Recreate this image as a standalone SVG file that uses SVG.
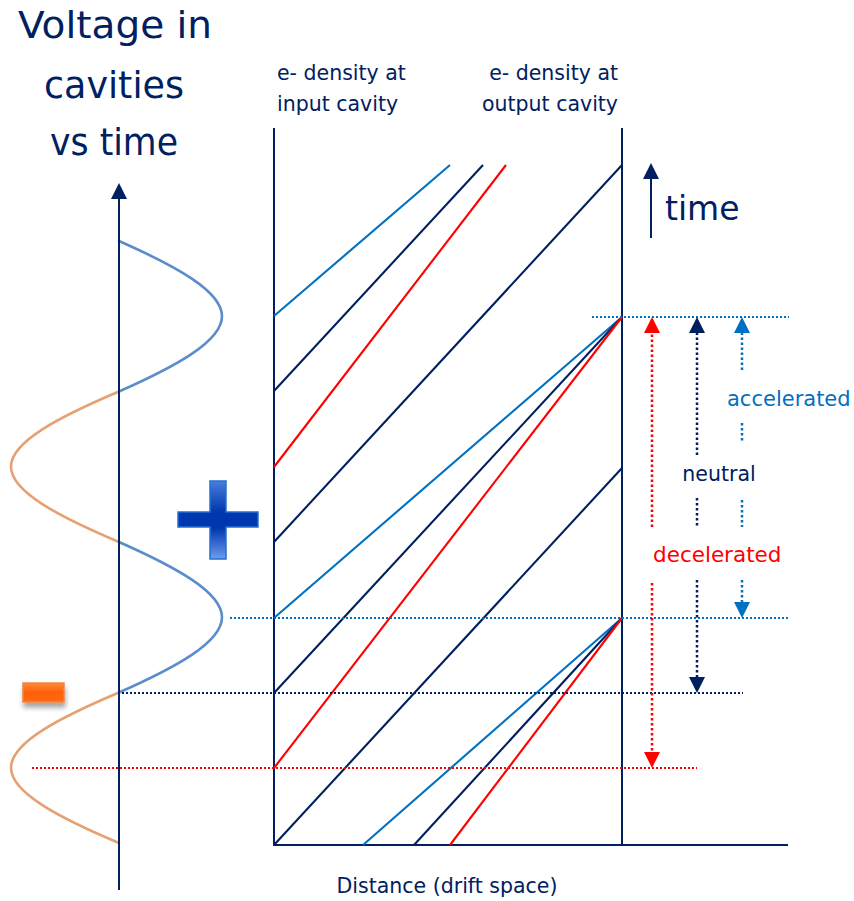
<svg xmlns="http://www.w3.org/2000/svg" width="854" height="901" viewBox="0 0 854 901">
<style>
.navy{stroke:#002060}
.blue{stroke:#0070c0}
.red{stroke:#ff0000}
.axis{fill:none;stroke:#002060;stroke-width:2}
.traj{fill:none;stroke-width:2.1}
.hdot{fill:none;stroke-width:2.2;stroke-dasharray:2 2}
.vdot{fill:none;stroke-width:2.5;stroke-dasharray:2.5 2.5}
.t{font-family:"DejaVu Sans","Liberation Sans",sans-serif}
.title{font-size:38px;fill:#002060;text-anchor:middle}
.hdr{font-size:20.5px;fill:#002060}
.lbl{font-size:21px}
</style>
<defs>
<marker id="ahNavy" markerUnits="userSpaceOnUse" markerWidth="16" markerHeight="16" viewBox="0 0 16 16" refX="0" refY="8" orient="auto"><path d="M0,0 L16,8 L0,16 z" fill="#002060"/></marker>
<marker id="ahBlue" markerUnits="userSpaceOnUse" markerWidth="16" markerHeight="16" viewBox="0 0 16 16" refX="0" refY="8" orient="auto"><path d="M0,0 L16,8 L0,16 z" fill="#0070c0"/></marker>
<marker id="ahRed" markerUnits="userSpaceOnUse" markerWidth="16" markerHeight="16" viewBox="0 0 16 16" refX="0" refY="8" orient="auto"><path d="M0,0 L16,8 L0,16 z" fill="#ff0000"/></marker>
<linearGradient id="plusG" x1="0" y1="481" x2="0" y2="559" gradientUnits="userSpaceOnUse">
<stop offset="0" stop-color="#4a7ddc"/>
<stop offset="0.4" stop-color="#0036ae"/>
<stop offset="0.6" stop-color="#0036ae"/>
<stop offset="1" stop-color="#6e9cee"/>
</linearGradient>
<linearGradient id="minusG" x1="0" y1="0" x2="0" y2="1">
<stop offset="0" stop-color="#ff8a3a"/>
<stop offset="0.5" stop-color="#ff6008"/>
<stop offset="1" stop-color="#ff6a16"/>
</linearGradient>
<filter id="shadow" x="-30%" y="-30%" width="160%" height="190%">
<feGaussianBlur in="SourceAlpha" stdDeviation="2.5"/>
<feOffset dx="1" dy="5" result="b"/>
<feComponentTransfer><feFuncA type="linear" slope="0.35"/></feComponentTransfer>
<feMerge><feMergeNode/><feMergeNode in="SourceGraphic"/></feMerge>
</filter>
</defs>

<g id="title" class="t title">
<text x="115" y="38" textLength="194" lengthAdjust="spacingAndGlyphs">Voltage in</text>
<text x="114" y="98" textLength="140" lengthAdjust="spacingAndGlyphs">cavities</text>
<text x="114" y="155" textLength="128" lengthAdjust="spacingAndGlyphs">vs time</text>
</g>

<g id="voltage-curve" fill="none" stroke-width="2.6" stroke-linecap="round">
<path d="M119,241 C175.7,266.1 222,291.2 222,316.25 C222,341.3 175.7,366.4 119,391.5" stroke="#5b8ccc"/>
<path d="M119,391.5 C59.6,416.6 11,441.7 11,466.75 C11,491.8 59.6,516.9 119,542" stroke="#e6a072"/>
<path d="M119,542 C175.7,567.1 222,592.2 222,617.25 C222,642.3 175.7,667.4 119,692.5" stroke="#5b8ccc"/>
<path d="M119,692.5 C59.6,717.6 11,742.7 11,767.75 C11,792.8 59.6,817.9 119,843" stroke="#e6a072"/>
</g>

<g id="plus-sign">
<path d="M210,481 H226 V512 H258 V527 H226 V559 H210 V527 H178 V512 H210 Z" fill="url(#plusG)" stroke="#1f72d4" stroke-width="1.5"/>
</g>

<g id="minus-sign" filter="url(#shadow)">
<rect x="23" y="683" width="41" height="19" fill="url(#minusG)" stroke="#e9874a" stroke-width="1.5"/>
</g>

<g id="axes">
<line class="axis" x1="274" y1="128" x2="274" y2="845"/>
<line class="axis" x1="622" y1="128" x2="622" y2="845"/>
<line class="axis" x1="273" y1="845" x2="788" y2="845"/>
</g>

<g id="trajectories" class="traj">
<line class="blue" x1="274" y1="316" x2="450" y2="165"/>
<line class="blue" x1="274" y1="618" x2="622" y2="317"/>
<line class="blue" x1="363" y1="845" x2="622" y2="618"/>
<line class="navy" x1="274" y1="391" x2="483" y2="165"/>
<line class="navy" x1="274" y1="542" x2="622" y2="165"/>
<line class="navy" x1="274" y1="693" x2="622" y2="317"/>
<line class="navy" x1="274" y1="845" x2="622" y2="468"/>
<line class="navy" x1="414" y1="845" x2="622" y2="618"/>
<line class="red" x1="274" y1="467" x2="506" y2="165"/>
<line class="red" x1="274" y1="768" x2="622" y2="317"/>
<line class="red" x1="450" y1="845" x2="622" y2="618"/>
</g>

<g id="connectors">
<line class="axis" x1="119" y1="890" x2="119" y2="199" marker-end="url(#ahNavy)"/>
<line class="axis" x1="651" y1="238" x2="651" y2="179" stroke-width="2.5" marker-end="url(#ahNavy)"/>
<line class="hdot blue" x1="592" y1="317" x2="789" y2="317"/>
<line class="hdot blue" x1="230" y1="618" x2="789" y2="618"/>
<line class="hdot navy" x1="122" y1="693" x2="743" y2="693"/>
<line class="hdot red" x1="32" y1="768" x2="697" y2="768"/>
<line class="vdot red" x1="652" y1="527" x2="652" y2="333" marker-end="url(#ahRed)"/>
<line class="vdot red" x1="652" y1="583" x2="652" y2="752" marker-end="url(#ahRed)"/>
<line class="vdot navy" x1="697" y1="455" x2="697" y2="333" marker-end="url(#ahNavy)"/>
<line class="vdot navy" x1="697" y1="498" x2="697" y2="527"/>
<line class="vdot navy" x1="697" y1="580" x2="697" y2="677" marker-end="url(#ahNavy)"/>
<line class="vdot blue" x1="742" y1="370" x2="742" y2="333" marker-end="url(#ahBlue)"/>
<line class="vdot blue" x1="742" y1="423" x2="742" y2="442"/>
<line class="vdot blue" x1="742" y1="500" x2="742" y2="527"/>
<line class="vdot blue" x1="742" y1="580" x2="742" y2="602" marker-end="url(#ahBlue)"/>
</g>

<g id="headers" class="t hdr">
<text x="277" y="80">e- density at</text>
<text x="277" y="111">input cavity</text>
<text x="618" y="80" text-anchor="end">e- density at</text>
<text x="618" y="111" text-anchor="end">output cavity</text>
</g>

<g id="time-label" class="t"><text x="665" y="220" font-size="33" fill="#002060">time</text></g>
<g id="accelerated-label" class="t lbl"><text x="727" y="406" fill="#0070c0">accelerated</text></g>
<g id="neutral-label" class="t lbl"><text x="719" y="481" fill="#002060" text-anchor="middle" font-size="20.5">neutral</text></g>
<g id="decelerated-label" class="t lbl"><text x="653" y="562" fill="#ff0000" font-size="21.5">decelerated</text></g>
<g id="x-axis-label" class="t"><text x="447" y="893" font-size="20.5" fill="#002060" text-anchor="middle">Distance (drift space)</text></g>
</svg>
